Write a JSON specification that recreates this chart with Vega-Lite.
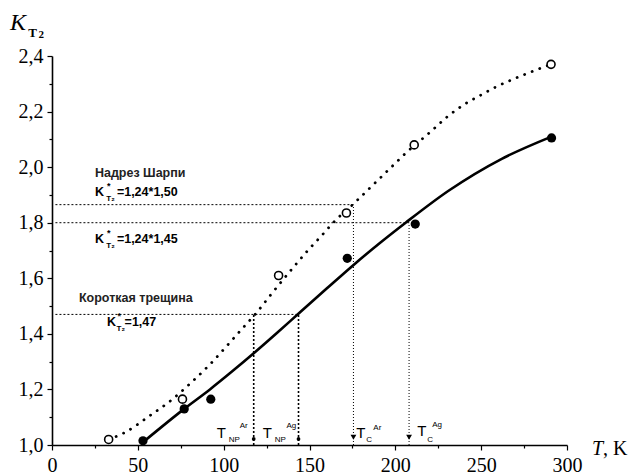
{
  "$schema": "https://vega.github.io/schema/vega-lite/v6.json",
  "width": 515,
  "height": 389,
  "autosize": {"type": "none"},
  "padding": {"left": 52, "top": 56, "right": 67, "bottom": 30},
  "background": "white",
  "config": {
    "view": {"stroke": null},
    "axis": {"grid": false, "domainColor": "black", "tickColor": "black", "labelColor": "black", "labelFont": "Liberation Serif", "labelFontSize": 20, "domainWidth": 1.6, "tickWidth": 1.2}
  },
  "datasets": {
    "solid": [
      {"T": 53, "K": 1.01}, {"T": 77, "K": 1.13}, {"T": 92, "K": 1.2}, {"T": 105, "K": 1.265},
      {"T": 117.5, "K": 1.33}, {"T": 131, "K": 1.403}, {"T": 144, "K": 1.475}, {"T": 160, "K": 1.563}, {"T": 176, "K": 1.65},
      {"T": 191, "K": 1.727}, {"T": 206, "K": 1.8}, {"T": 231, "K": 1.915}, {"T": 262, "K": 2.03}, {"T": 291, "K": 2.11}
    ],
    "dotted": [
      {"T": 33, "K": 1.02}, {"T": 42.4, "K": 1.045}, {"T": 58, "K": 1.11}, {"T": 67.6, "K": 1.152}, {"T": 82, "K": 1.23},
      {"T": 92, "K": 1.29}, {"T": 101.6, "K": 1.355}, {"T": 111, "K": 1.42}, {"T": 119, "K": 1.475}, {"T": 128, "K": 1.545},
      {"T": 140, "K": 1.635}, {"T": 149, "K": 1.7}, {"T": 158, "K": 1.76}, {"T": 163, "K": 1.795}, {"T": 176, "K": 1.87},
      {"T": 186, "K": 1.93}, {"T": 196, "K": 1.99}, {"T": 206, "K": 2.05}, {"T": 221, "K": 2.13}, {"T": 230, "K": 2.18},
      {"T": 240, "K": 2.225}, {"T": 250, "K": 2.26}, {"T": 259, "K": 2.29}, {"T": 270, "K": 2.32}, {"T": 280, "K": 2.345},
      {"T": 290.7, "K": 2.37}
    ],
    "open": [
      {"T": 33, "K": 1.02}, {"T": 76, "K": 1.165}, {"T": 132, "K": 1.61}, {"T": 171.5, "K": 1.835}, {"T": 211, "K": 2.08}, {"T": 290.7, "K": 2.37}
    ],
    "filled": [
      {"T": 53, "K": 1.015}, {"T": 77, "K": 1.13}, {"T": 92.5, "K": 1.165}, {"T": 172, "K": 1.672}, {"T": 211.6, "K": 1.795}, {"T": 291, "K": 2.105}
    ],
    "hlines": [
      {"T": 2, "T2": 175.6, "K": 1.865}, {"T": 2, "T2": 208, "K": 1.8}, {"T": 2, "T2": 143.6, "K": 1.47}
    ],
    "vbold": [
      {"T": 117.5, "K": 1.0, "K2": 1.475}, {"T": 143.6, "K": 1.0, "K2": 1.47}
    ],
    "vthin": [
      {"T": 175.6, "K": 1.0, "K2": 1.865}, {"T": 208, "K": 1.0, "K2": 1.8}
    ],
    "markSmall": [{"T": 117.5, "K": 1.022}, {"T": 143.6, "K": 1.022}],
    "markBig": [{"T": 175.6, "K": 1.028}, {"T": 208, "K": 1.028}],
    "annoHead": [
      {"T": 25.0, "K": 1.979, "label": "Надрез Шарпи"},
      {"T": 15.7, "K": 1.529, "label": "Короткая трещина"}
    ],
    "annoMain": [
      {"T": 25.0, "K": 1.91, "label": "K"}, {"T": 37.8, "K": 1.91, "label": "=1,24*1,50"},
      {"T": 25.0, "K": 1.741, "label": "K"}, {"T": 37.8, "K": 1.741, "label": "=1,24*1,45"},
      {"T": 32.0, "K": 1.443, "label": "K"}, {"T": 42.3, "K": 1.443, "label": "=1,47"}
    ],
    "annoStar": [
      {"T": 32.0, "K": 1.932, "label": "*"}, {"T": 32.0, "K": 1.763, "label": "*"}, {"T": 38.2, "K": 1.463, "label": "*"}
    ],
    "annoSub": [
      {"T": 31.6, "K": 1.885, "label": "T₂"}, {"T": 31.6, "K": 1.716, "label": "T₂"}, {"T": 37.6, "K": 1.417, "label": "T₂"}
    ],
    "bottomT": [
      {"T": 95.9, "K": 1.043, "label": "T"}, {"T": 122.7, "K": 1.043, "label": "T"},
      {"T": 177.3, "K": 1.043, "label": "T"}, {"T": 212.8, "K": 1.05, "label": "T"}
    ],
    "bottomSub": [
      {"T": 102.9, "K": 1.018, "label": "NP"}, {"T": 129.7, "K": 1.018, "label": "NP"},
      {"T": 183.1, "K": 1.018, "label": "C"}, {"T": 218.6, "K": 1.018, "label": "C"}
    ],
    "bottomSup": [
      {"T": 109.3, "K": 1.068, "label": "Ar"}, {"T": 136.6, "K": 1.068, "label": "Ag"},
      {"T": 187.2, "K": 1.061, "label": "Ar"}, {"T": 221.5, "K": 1.072, "label": "Ag"}
    ],
    "titleK": [{"T": -24.5, "K": 2.517, "label": "K"}],
    "titleKsub": [{"T": -13.8, "K": 2.484, "label": "T"}],
    "titleKsub2": [{"T": -7.8, "K": 2.475, "label": "2"}],
    "titleTi": [{"T": 314.5, "K": 0.986, "label": "T"}],
    "titleTr": [{"T": 320.9, "K": 0.986, "label": ", K"}]
  },
  "encoding": {
    "x": {
      "field": "T", "type": "quantitative",
      "scale": {"domain": [0, 300], "nice": false, "zero": false},
      "axis": {
        "title": null,
        "values": [0, 25, 50, 75, 100, 125, 150, 175, 200, 225, 250, 275, 300],
        "labelExpr": "datum.value % 50 == 0 ? datum.label : ''",
        "tickSize": {"condition": {"test": "datum.value % 50 == 0", "value": 5}, "value": 3},
        "labelPadding": 5,
        "labelFlush": false,
        "labelOverlap": false
      }
    },
    "y": {
      "field": "K", "type": "quantitative",
      "scale": {"domain": [1.0, 2.4], "nice": false, "zero": false},
      "axis": {
        "title": null,
        "values": [1.0, 1.1, 1.2, 1.3, 1.4, 1.5, 1.6, 1.7, 1.8, 1.9, 2.0, 2.1, 2.2, 2.3, 2.4],
        "labelExpr": "round(datum.value * 10) % 2 == 0 ? replace(format(datum.value, '.1f'), '.', ',') : ''",
        "tickSize": {"condition": {"test": "round(datum.value * 10) % 2 == 0", "value": 5}, "value": 3},
        "labelPadding": 4,
        "labelOverlap": false,
        "labelFlush": false
      }
    }
  },
  "layer": [
    {"data": {"name": "hlines"}, "mark": {"type": "rule", "color": "black", "strokeWidth": 1, "strokeDash": [2, 2]},
     "encoding": {"x2": {"field": "T2"}}},
    {"data": {"name": "vbold"}, "mark": {"type": "rule", "color": "black", "strokeWidth": 1.6, "strokeDash": [2, 2]},
     "encoding": {"y2": {"field": "K2"}}},
    {"data": {"name": "vthin"}, "mark": {"type": "rule", "color": "black", "strokeWidth": 1, "strokeDash": [1, 2]},
     "encoding": {"y2": {"field": "K2"}}},
    {"data": {"name": "dotted"}, "mark": {"type": "line", "color": "black", "strokeWidth": 2.8, "strokeDash": [0.1, 8], "strokeCap": "round", "interpolate": "monotone"}},
    {"data": {"name": "solid"}, "mark": {"type": "line", "color": "black", "strokeWidth": 2.6, "interpolate": "monotone"}},
    {"data": {"name": "open"}, "mark": {"type": "point", "shape": "circle", "size": 64, "filled": false, "fill": "white", "fillOpacity": 1, "stroke": "black", "strokeWidth": 1.6, "opacity": 1}},
    {"data": {"name": "filled"}, "mark": {"type": "point", "shape": "circle", "size": 85, "filled": true, "color": "black", "opacity": 1}},
    {"data": {"name": "markSmall"}, "mark": {"type": "point", "shape": "circle", "size": 14, "filled": true, "color": "black", "opacity": 1}},
    {"data": {"name": "markBig"}, "mark": {"type": "point", "shape": "triangle-down", "size": 34, "filled": true, "color": "black", "opacity": 1}},
    {"data": {"name": "annoHead"}, "mark": {"type": "text", "align": "left", "baseline": "middle", "font": "Liberation Sans", "fontSize": 12.5, "fontWeight": "bold", "color": "#222"},
     "encoding": {"text": {"field": "label"}}},
    {"data": {"name": "annoMain"}, "mark": {"type": "text", "align": "left", "baseline": "middle", "font": "Liberation Sans", "fontSize": 12.5, "fontWeight": "bold", "color": "black"},
     "encoding": {"text": {"field": "label"}}},
    {"data": {"name": "annoStar"}, "mark": {"type": "text", "align": "left", "baseline": "middle", "font": "Liberation Sans", "fontSize": 9, "fontWeight": "bold", "color": "black"},
     "encoding": {"text": {"field": "label"}}},
    {"data": {"name": "annoSub"}, "mark": {"type": "text", "align": "left", "baseline": "middle", "font": "Liberation Sans", "fontSize": 8, "fontWeight": "bold", "color": "black"},
     "encoding": {"text": {"field": "label"}}},
    {"data": {"name": "bottomT"}, "mark": {"type": "text", "align": "left", "baseline": "middle", "font": "Liberation Sans", "fontSize": 15, "color": "black"},
     "encoding": {"text": {"field": "label"}}},
    {"data": {"name": "bottomSub"}, "mark": {"type": "text", "align": "left", "baseline": "middle", "font": "Liberation Sans", "fontSize": 8, "color": "black"},
     "encoding": {"text": {"field": "label"}}},
    {"data": {"name": "bottomSup"}, "mark": {"type": "text", "align": "left", "baseline": "middle", "font": "Liberation Sans", "fontSize": 8, "color": "black"},
     "encoding": {"text": {"field": "label"}}},
    {"data": {"name": "titleK"}, "mark": {"type": "text", "align": "left", "baseline": "middle", "font": "Liberation Serif", "fontSize": 24, "fontStyle": "italic", "color": "black"},
     "encoding": {"text": {"field": "label"}}},
    {"data": {"name": "titleKsub"}, "mark": {"type": "text", "align": "left", "baseline": "middle", "font": "Liberation Serif", "fontSize": 13, "fontWeight": "bold", "color": "black"},
     "encoding": {"text": {"field": "label"}}},
    {"data": {"name": "titleKsub2"}, "mark": {"type": "text", "align": "left", "baseline": "middle", "font": "Liberation Serif", "fontSize": 11, "fontWeight": "bold", "color": "black"},
     "encoding": {"text": {"field": "label"}}},
    {"data": {"name": "titleTi"}, "mark": {"type": "text", "align": "left", "baseline": "middle", "font": "Liberation Serif", "fontSize": 20, "fontStyle": "italic", "color": "black"},
     "encoding": {"text": {"field": "label"}}},
    {"data": {"name": "titleTr"}, "mark": {"type": "text", "align": "left", "baseline": "middle", "font": "Liberation Serif", "fontSize": 20, "color": "black"},
     "encoding": {"text": {"field": "label"}}}
  ]
}
